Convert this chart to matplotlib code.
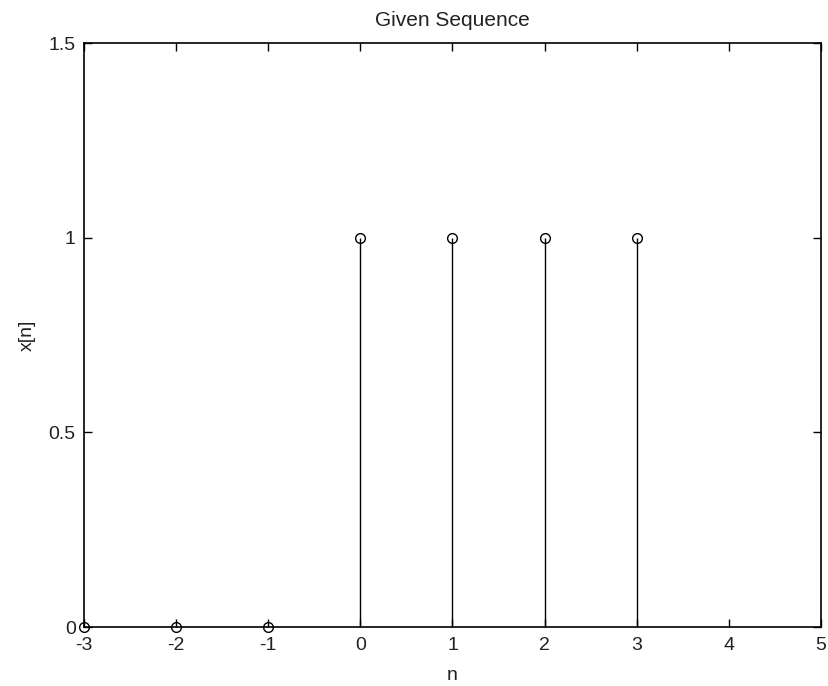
import matplotlib
matplotlib.use("Agg")
import matplotlib.pyplot as plt

n = [-3, -2, -1, 0, 1, 2, 3]
x = [0, 0, 0, 1, 1, 1, 1]
xticks = [-3, -2, -1, 0, 1, 2, 3, 4, 5]
yticks = [0, 0.5, 1, 1.5]
ytick_labels = ['0', '0.5', '1', '1.5']

plt.rcParams['font.family'] = ['Liberation Sans', 'DejaVu Sans']
fig = plt.figure(figsize=(8.29, 6.86), dpi=100)
ax = fig.add_axes([84/829, 1-627/686, (821-84)/829, (627-43)/686])

markerline, stemlines, baseline = ax.stem(n, x, linefmt='k-', markerfmt='ko', basefmt=' ')
markerline.set_markerfacecolor('none')
markerline.set_markeredgecolor('black')
markerline.set_markersize(7)
markerline.set_markeredgewidth(1.0)
markerline.set_clip_on(False)
stemlines.set_linewidth(1.0)

ax.set_xlim(-3, 5)
ax.set_ylim(0, 1.5)
ax.set_xticks(xticks)
ax.set_yticks(yticks)
ax.set_xticklabels([str(t) for t in xticks])
ax.set_yticklabels(ytick_labels)
ax.tick_params(direction='in', top=True, right=True, labelsize=14, length=6, width=1,
               labelcolor='#222222')
ax.tick_params(axis='x', pad=7.5)
ax.tick_params(axis='y', pad=6)
for s in ax.spines.values():
    s.set_linewidth(1.2)
ax.set_title('Given Sequence', fontsize=15, pad=12, color='#222222')
ax.set_xlabel('n', fontsize=14, labelpad=9, color='#222222')
ax.set_ylabel('x[n]', fontsize=14, labelpad=9, color='#222222')

fig.savefig('out.png', dpi=100)
